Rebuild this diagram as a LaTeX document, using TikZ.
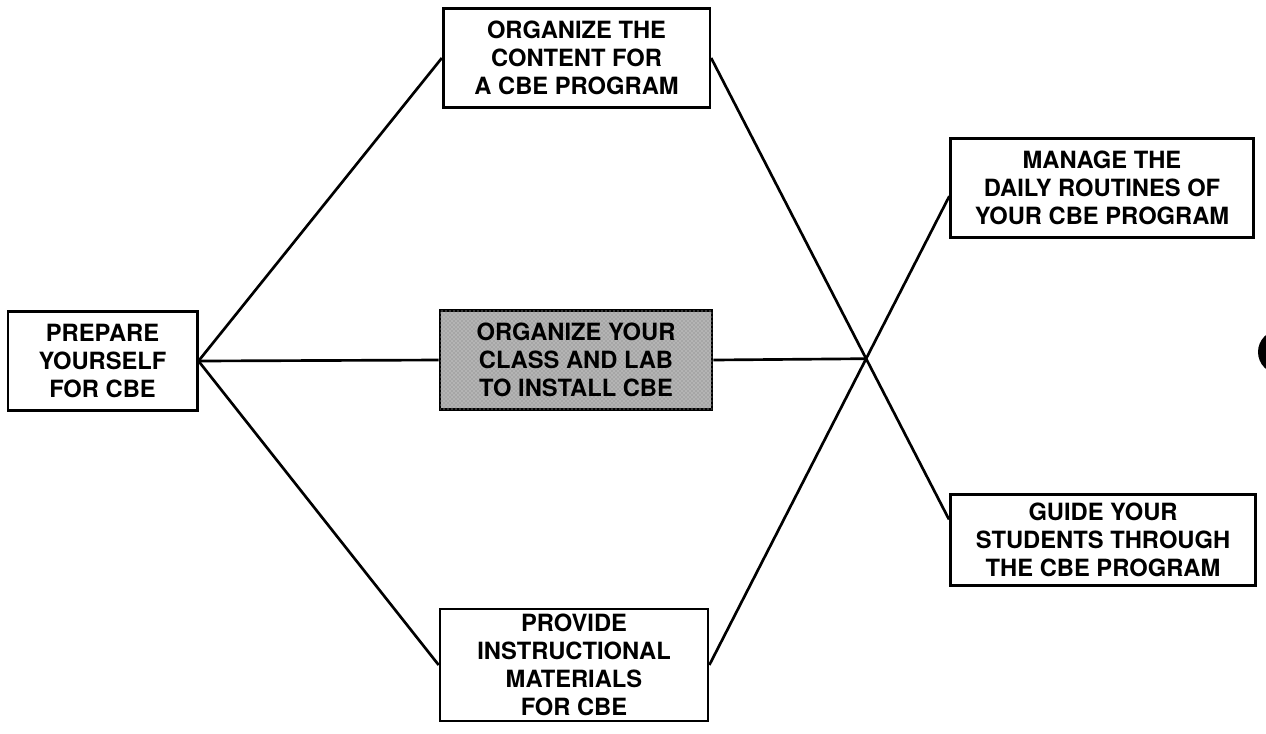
\documentclass[tikz,border=0pt]{standalone}
\usepackage{fontspec}
\setmainfont{TeX Gyre Heros}
\usetikzlibrary{calc,patterns}

\begin{document}
\begin{tikzpicture}[x=0.75pt, y=-0.75pt, line width=2pt,
  box/.style={draw, align=center, inner sep=0pt,
    font=\fontsize{17.8}{21}\selectfont\bfseries},
  shadedbox/.style={box, fill=gray!70,
    postaction={pattern=crosshatch dots, pattern color=white!80!gray}}]
\useasboundingbox (0,0) rectangle (1266,733);
% steps
\node[box, minimum width=142pt, minimum height=74pt] (prep) at (102.5,361) {PREPARE\\YOURSELF\\FOR CBE};
\node[box, minimum width=200pt, minimum height=74pt] (content) at (576.5,58) {ORGANIZE THE\\CONTENT FOR\\A CBE PROGRAM};
\node[shadedbox, minimum width=204pt, minimum height=74pt] (classlab) at (576,360) {ORGANIZE YOUR\\CLASS AND LAB\\TO INSTALL CBE};
\node[box, minimum width=201pt, minimum height=84pt] (materials) at (574,665) {PROVIDE\\INSTRUCTIONAL\\MATERIALS\\FOR CBE};
\node[box, minimum width=227pt, minimum height=74pt] (manage) at (1102,188) {MANAGE THE\\DAILY ROUTINES OF\\YOUR CBE PROGRAM};
\node[box, minimum width=229pt, minimum height=68pt] (guide) at (1103,540) {GUIDE YOUR\\STUDENTS THROUGH\\THE CBE PROGRAM};
% connectors
\coordinate (g) at ($(guide.north west)!.28!(guide.south west)$);
\coordinate (m) at ($(manage.north west)!.58!(manage.south west)$);
\coordinate (x) at (intersection of content.east--g and materials.east--m);
\draw (prep.east) -- (content.west);
\draw (prep.east) -- (classlab.west);
\draw (prep.east) -- (materials.west);
\draw (content.east) -- (g);
\draw (materials.east) -- (m);
\draw (classlab.east) -- (x);
% binding hole
\fill (1280,352) circle (22);
\end{tikzpicture}
\end{document}
